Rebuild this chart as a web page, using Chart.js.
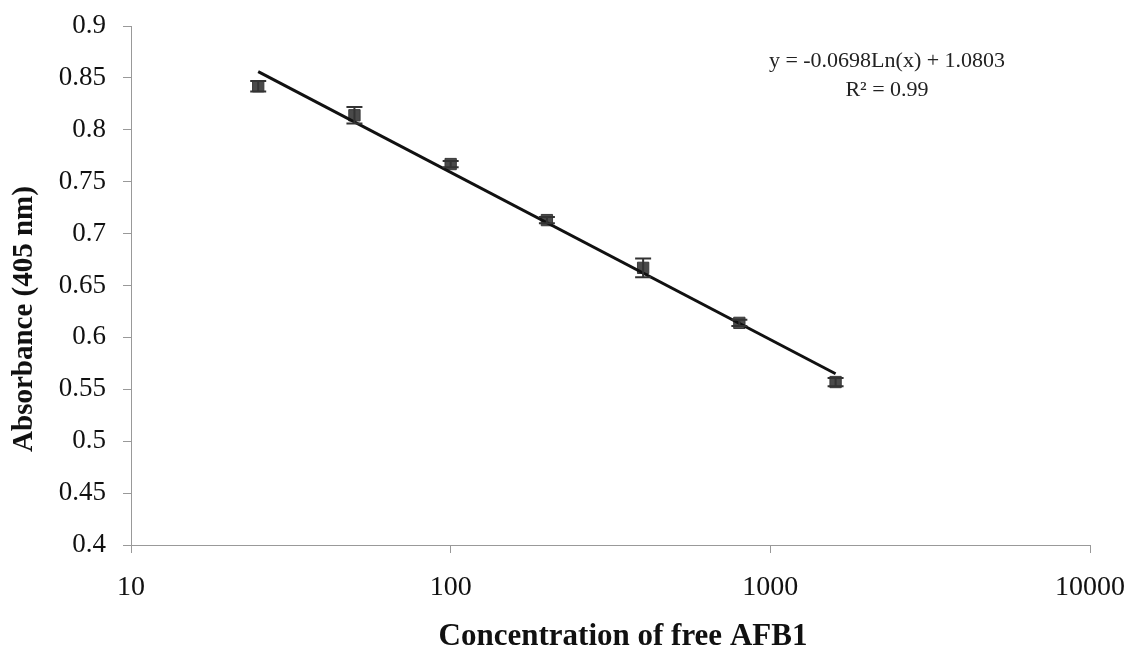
<!DOCTYPE html>
<html>
<head>
<meta charset="utf-8">
<script src="https://cdn.jsdelivr.net/npm/chart.js@4/dist/chart.umd.min.js"></script>
<style>
  html, body { margin: 0; padding: 0; background: #fff; }
</style>
</head>
<body>
<canvas id="grafico" width="1130" height="655"></canvas>
<script>
// data
const concentrations = [25, 50, 100, 200, 400, 800, 1600];
const absorbance = [0.842, 0.814, 0.767, 0.713, 0.667, 0.614, 0.557];
const errors = [0.005, 0.008, 0.003, 0.003, 0.009, 0.003, 0.004];
const fitX = [25, 1600];
const fitY = [0.856, 0.565];
const xTickValues = [10, 100, 1000, 10000];
const equationLines = ['y = -0.0698Ln(x) + 1.0803', 'R² = 0.99'];
const xTitle = 'Concentration of free AFB1';
const yTitle = 'Absorbance (405 nm)';

const serif = '"Liberation Serif", "DejaVu Serif", serif';

// error bars, drawn through the chart scales
const errorBars = {
    id: 'errorBars',
    afterDatasetsDraw(chart) {
        const ctx = chart.ctx;
        const x = chart.scales.x, y = chart.scales.y;
        ctx.save();
        ctx.strokeStyle = '#333';
        ctx.lineWidth = 2;
        concentrations.forEach((c, i) => {
            const px = x.getPixelForValue(c);
            const top = y.getPixelForValue(absorbance[i] + errors[i]);
            const bot = y.getPixelForValue(absorbance[i] - errors[i]);
            ctx.beginPath();
            ctx.moveTo(px, top); ctx.lineTo(px, bot);
            ctx.moveTo(px - 8, top); ctx.lineTo(px + 8, top);
            ctx.moveTo(px - 8, bot); ctx.lineTo(px + 8, bot);
            ctx.stroke();
        });
        ctx.restore();
    }
};

// trendline equation and axis titles
const labels = {
    id: 'labels',
    afterDraw(chart) {
        const ctx = chart.ctx;
        const a = chart.chartArea;
        ctx.save();
        ctx.fillStyle = '#222';
        ctx.font = '22px ' + serif;
        ctx.textAlign = 'center';
        ctx.textBaseline = 'middle';
        const cx = a.right - 203;
        ctx.fillText(equationLines[0], cx, a.top + 35);
        ctx.fillText(equationLines[1], cx, a.top + 64);

        ctx.fillStyle = '#111';
        ctx.font = 'bold 31px ' + serif;
        ctx.fillText(xTitle, a.left + 492, 637);

        ctx.font = 'bold 29px ' + serif;
        ctx.translate(25, a.top + 293);
        ctx.rotate(-Math.PI / 2);
        ctx.fillText(yTitle, 0, 0);
        ctx.restore();
    }
};

const ctx = document.getElementById('grafico').getContext('2d');
const chart = new Chart(ctx, {
    type: 'scatter',
    data: {
        datasets: [{
            label: 'Absorbance',
            data: concentrations.map((c, i) => ({x: c, y: absorbance[i]})),
            pointStyle: 'rect',
            pointRadius: 8,
            backgroundColor: '#4a4a4a',
            borderColor: '#3a3a3a',
            borderWidth: 1,
            order: 2
        }, {
            label: 'Log fit',
            type: 'line',
            data: fitX.map((c, i) => ({x: c, y: fitY[i]})),
            borderColor: '#111',
            borderWidth: 3,
            pointRadius: 0,
            fill: false,
            order: 1
        }]
    },
    plugins: [errorBars, labels],
    options: {
        responsive: false,
        animation: false,
        layout: { padding: { left: 8, right: 40, top: 26, bottom: 0 } },
        plugins: {
            legend: { display: false },
            tooltip: { enabled: false }
        },
        scales: {
            x: {
                type: 'logarithmic',
                min: 10,
                max: 10000,
                afterBuildTicks: (scale) => {
                    scale.ticks = xTickValues.map(v => ({value: v}));
                },
                afterFit: (scale) => {
                    scale.height = 110;
                    scale.paddingLeft = 0;
                    scale.paddingRight = 0;
                },
                grid: { drawOnChartArea: false, color: '#999', tickLength: 8 },
                border: { color: '#999', width: 1 },
                ticks: {
                    color: '#111',
                    padding: 18,
                    maxRotation: 0,
                    font: { family: serif, size: 28 },
                    callback: (v) => String(v)
                }
            },
            y: {
                min: 0.4,
                max: 0.9,
                afterFit: (scale) => {
                    scale.width = 123;
                    scale.paddingTop = 0;
                    scale.paddingBottom = 0;
                },
                grid: { drawOnChartArea: false, color: '#999', tickLength: 8 },
                border: { color: '#999', width: 1 },
                ticks: {
                    stepSize: 0.05,
                    color: '#111',
                    padding: 17,
                    font: { family: serif, size: 27 },
                    callback: (v) => String(Number(v.toFixed(2)))
                }
            }
        }
    }
});
</script>
</body>
</html>
